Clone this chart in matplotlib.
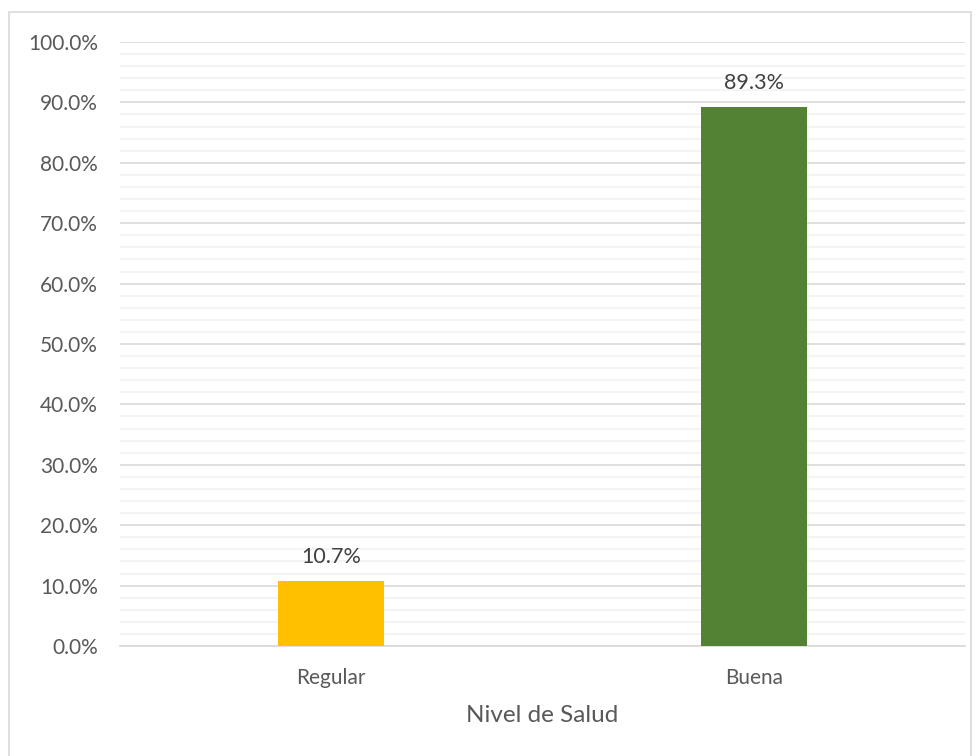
import matplotlib
matplotlib.use("Agg")
import matplotlib.pyplot as plt
from matplotlib.ticker import MultipleLocator, FuncFormatter
from matplotlib.patches import Rectangle

categories = ["Regular", "Buena"]
values = [10.7, 89.3]
colors = ["#FFC000", "#548235"]
x_label = "Nivel de Salud"

plt.rcParams['font.family'] = ['Lato', 'DejaVu Sans']

fig = plt.figure(figsize=(9.8, 7.56), dpi=100)
ax = fig.add_axes([120/980, 1 - 646/756, 845/980, (646-42)/756])

x = list(range(len(categories)))
ax.bar(x, values, width=0.25, color=colors, zorder=3)
for xi, v in zip(x, values):
    ax.annotate(f"{v:.1f}%", (xi, v), xytext=(0, 10), textcoords="offset points",
                ha="center", va="bottom", fontsize=15.5, color="#404040")

ax.set_xlim(-0.5, 1.5)
ax.set_ylim(0, 100)
ax.yaxis.set_major_locator(MultipleLocator(10))
ax.yaxis.set_minor_locator(MultipleLocator(2))
ax.yaxis.set_major_formatter(FuncFormatter(lambda v, p: f"{v:.1f}%"))
ax.set_xticks(x)
ax.set_xticklabels(categories)
ax.tick_params(axis="both", length=0, labelsize=15, colors="#595959")
ax.tick_params(axis="x", pad=16)
ax.tick_params(axis="y", pad=16)
ax.tick_params(which="minor", length=0)
ax.grid(axis="y", which="major", color="#D9D9D9", linewidth=1.2, zorder=0)
ax.grid(axis="y", which="minor", color="#F2F2F2", linewidth=1.2, zorder=0)
for s in ["top", "right", "left"]:
    ax.spines[s].set_visible(False)
ax.spines["bottom"].set_color("#D9D9D9")
ax.spines["bottom"].set_linewidth(1.2)
ax.set_xlabel(x_label, fontsize=17.5, color="#595959", labelpad=12)

fig.patches.append(Rectangle((9/980, -0.01), (971-9)/980, 1 - 12/756 + 0.01,
                             transform=fig.transFigure, fill=False,
                             edgecolor="#D9D9D9", linewidth=1.2))

fig.savefig("out.png", dpi=100)
